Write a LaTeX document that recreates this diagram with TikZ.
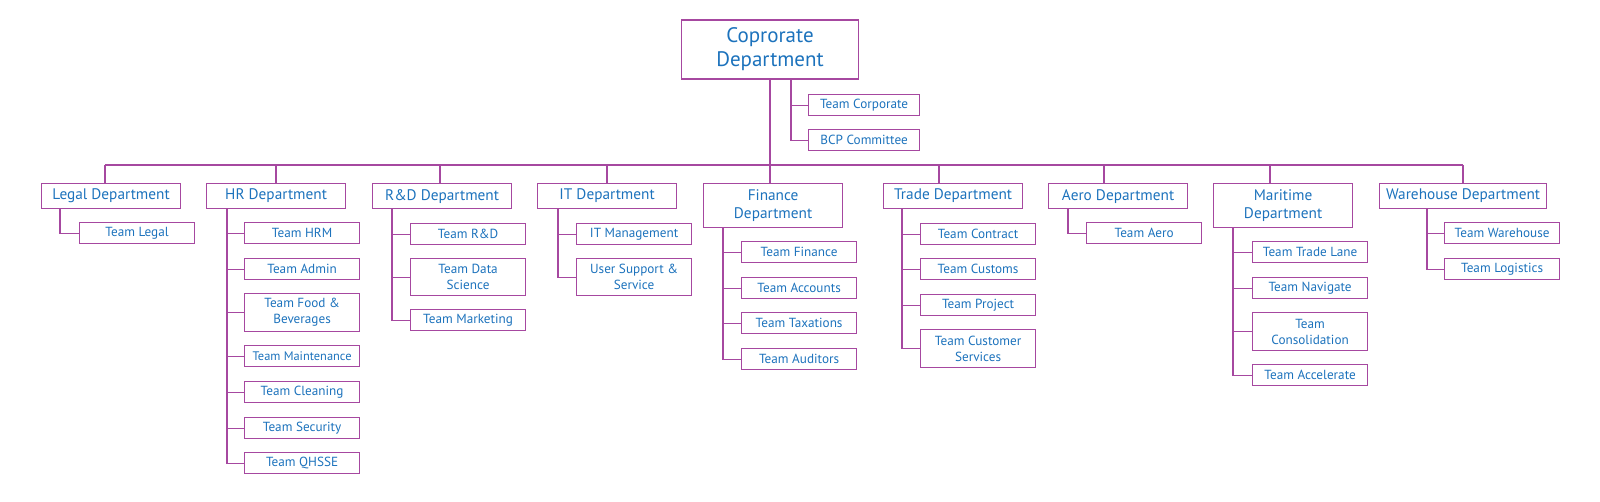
\documentclass[tikz,border=0pt]{standalone}
\usepackage{fontspec}
\setmainfont{PT Sans}
\usepackage{tikz}
\definecolor{orgline}{RGB}{166,72,160}
\definecolor{orgtext}{RGB}{28,114,188}
\tikzset{
	deptbox/.style={draw=orgline, line width=1.2pt, text=orgtext, inner sep=0pt, align=center,
	  font=\fontsize{15.3}{18}\selectfont, minimum width=139pt, minimum height=25pt}
}
\tikzset{
	teambox/.style={draw=orgline, line width=1.2pt, text=orgtext, inner sep=0pt, align=center,
	  font=\fontsize{13.2}{16}\selectfont, minimum width=115pt, minimum height=21pt}
}
\tikzset{
	link/.style={draw=orgline, line width=1.2pt}
}

\begin{document}
\begin{tikzpicture}[x=1pt,y=-1pt]
      \useasboundingbox (0,0) rectangle (1600,501);

      % head of the chart
      \node[deptbox, font=\fontsize{21}{24}\selectfont, minimum width=177pt, minimum height=59pt] (corp) at (770,49.5) {Coprorate\\Department};
      \node[teambox, anchor=north west, minimum width=111pt] (tcorp) at (808,94) {Team Corporate};
      \node[teambox, anchor=north west, minimum width=111pt] (bcp) at (808,129) {BCP Committee};
      \coordinate (corpB) at (791,79);
      \draw[link] (corpB) |- (tcorp.west) (corpB) |- (bcp.west);

      % departments
      \node[deptbox, anchor=north west] (legal) at (41,183) {Legal Department};
      \node[deptbox, anchor=north west] (hr) at (206,183) {HR Department};
      \node[deptbox, anchor=north west] (rnd) at (372,183) {R\&D Department};
      \node[deptbox, anchor=north west] (it) at (537,183) {IT Department};
      \node[deptbox, anchor=north west, minimum height=44pt] (fin) at (703,183) {Finance\\Department};
      \node[deptbox, anchor=north west] (trade) at (883,183) {Trade Department};
      \node[deptbox, anchor=north west] (aero) at (1048,183) {Aero Department};
      \node[deptbox, anchor=north west, minimum height=44pt] (mar) at (1213,183) {Maritime\\Department};
      \node[deptbox, anchor=north west, minimum width=167pt] (ware) at (1379,183) {Warehouse Department};

      % bus from the head down to each department
      \coordinate (dLegal) at (105,165);
      \coordinate (dHr) at (276,165);
      \coordinate (dRnd) at (440,165);
      \coordinate (dIt) at (607,165);
      \coordinate (dTrade) at (939,165);
      \coordinate (dAero) at (1104,165);
      \coordinate (dMar) at (1270,165);
      \coordinate (dWare) at (1463,165);
      \draw[link] (corp.south) -- (corp.south |- fin.north);
      \draw[link] (dLegal) -- (dWare);
      \draw[link] (dLegal) -- (dLegal |- legal.north);
      \draw[link] (dHr) -- (dHr |- hr.north);
      \draw[link] (dRnd) -- (dRnd |- rnd.north);
      \draw[link] (dIt) -- (dIt |- it.north);
      \draw[link] (dTrade) -- (dTrade |- trade.north);
      \draw[link] (dAero) -- (dAero |- aero.north);
      \draw[link] (dMar) -- (dMar |- mar.north);
      \draw[link] (dWare) -- (dWare |- ware.north);

      % teams
      \node[teambox, anchor=north west] (tlegal) at (79,222) {Team Legal};

      \node[teambox, anchor=north west] (hrm) at (244,222) {Team HRM};
      \node[teambox, anchor=north west] (admin) at (244,258) {Team Admin};
      \node[teambox, anchor=north west, minimum height=38pt] (food) at (244,293) {Team Food \&\\Beverages};
      \node[teambox, anchor=north west, font=\fontsize{12.4}{14}\selectfont] (maint) at (244,345) {Team Maintenance};
      \node[teambox, anchor=north west] (clean) at (244,381) {Team Cleaning};
      \node[teambox, anchor=north west] (secu) at (244,417) {Team Security};
      \node[teambox, anchor=north west] (qhsse) at (244,452) {Team QHSSE};

      \node[teambox, anchor=north west] (trnd) at (410,223) {Team R\&D};
      \node[teambox, anchor=north west, minimum height=37pt] (data) at (410,258) {Team Data\\Science};
      \node[teambox, anchor=north west] (mkt) at (410,309) {Team Marketing};

      \node[teambox, anchor=north west] (itm) at (576,223) {IT Management};
      \node[teambox, anchor=north west, minimum height=37pt] (usr) at (576,258) {User Support \&\\Service};

      \node[teambox, anchor=north west] (tfin) at (741,241) {Team Finance};
      \node[teambox, anchor=north west] (acc) at (741,277) {Team Accounts};
      \node[teambox, anchor=north west] (tax) at (741,312) {Team Taxations};
      \node[teambox, anchor=north west] (aud) at (741,348) {Team Auditors};

      \node[teambox, anchor=north west] (contract) at (920,223) {Team Contract};
      \node[teambox, anchor=north west] (customs) at (920,258) {Team Customs};
      \node[teambox, anchor=north west] (project) at (920,294) {Team Project};
      \node[teambox, anchor=north west, minimum height=38pt] (cserv) at (920,329) {Team Customer\\Services};

      \node[teambox, anchor=north west] (taero) at (1086,222) {Team Aero};

      \node[teambox, anchor=north west] (lane) at (1252,241) {Team Trade Lane};
      \node[teambox, anchor=north west] (navi) at (1252,277) {Team Navigate};
      \node[teambox, anchor=north west, minimum height=38pt] (consol) at (1252,312) {Team\\Consolidation};
      \node[teambox, anchor=north west] (accel) at (1252,364) {Team Accelerate};

      \node[teambox, anchor=north west] (tware) at (1444,222) {Team Warehouse};
      \node[teambox, anchor=north west] (logis) at (1444,258) {Team Logistics};

      % branches from each department to its teams
      \coordinate (legalB) at ([xshift=19pt]legal.south west);
      \coordinate (hrB) at ([xshift=21pt]hr.south west);
      \coordinate (rndB) at ([xshift=20pt]rnd.south west);
      \coordinate (itB) at ([xshift=21pt]it.south west);
      \coordinate (finB) at ([xshift=20pt]fin.south west);
      \coordinate (tradeB) at ([xshift=19pt]trade.south west);
      \coordinate (aeroB) at ([xshift=20pt]aero.south west);
      \coordinate (marB) at ([xshift=20pt]mar.south west);
      \coordinate (wareB) at ([xshift=48pt]ware.south west);
      \draw[link] (legalB) |- (tlegal.west);
      \draw[link] (hrB) |- (hrm.west) (hrB) |- (admin.west) (hrB) |- (food.west) (hrB) |- (maint.west)
                  (hrB) |- (clean.west) (hrB) |- (secu.west) (hrB) |- (qhsse.west);
      \draw[link] (rndB) |- (trnd.west) (rndB) |- (data.west) (rndB) |- (mkt.west);
      \draw[link] (itB) |- (itm.west) (itB) |- (usr.west);
      \draw[link] (finB) |- (tfin.west) (finB) |- (acc.west) (finB) |- (tax.west) (finB) |- (aud.west);
      \draw[link] (tradeB) |- (contract.west) (tradeB) |- (customs.west) (tradeB) |- (project.west) (tradeB) |- (cserv.west);
      \draw[link] (aeroB) |- (taero.west);
      \draw[link] (marB) |- (lane.west) (marB) |- (navi.west) (marB) |- (consol.west) (marB) |- (accel.west);
      \draw[link] (wareB) |- (tware.west) (wareB) |- (logis.west);
    \end{tikzpicture}
\end{document}
